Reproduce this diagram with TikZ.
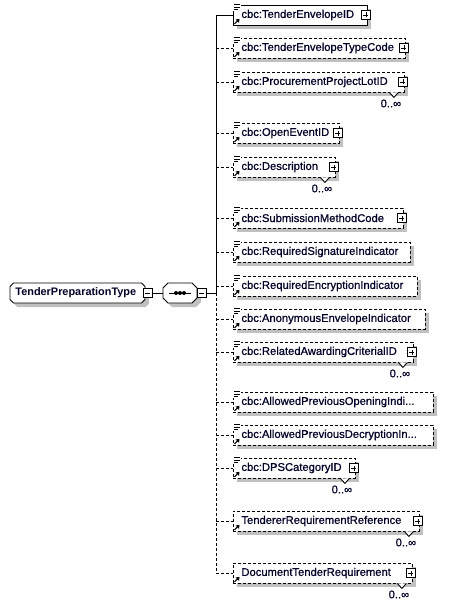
\documentclass[tikz,border=0pt]{standalone}
\usepackage{fontspec}
\setmainfont{Liberation Sans}
\newfontfamily\elemfont[FakeBold=0.7]{Liberation Sans}
\usetikzlibrary{shadows,calc}
\definecolor{shd}{RGB}{192,192,192}
\definecolor{txtc}{RGB}{0,0,40}
\newcommand\mydots{...}
\begin{document}
\begin{tikzpicture}[x=1pt,y=-1pt,line width=0.9pt,
  shdw/.style={drop shadow={shadow xshift=4pt,shadow yshift=-4pt,fill=shd,opacity=1}},
  elem/.style={draw=black,fill=white,minimum height=20pt,inner sep=0pt,anchor=west,shdw},
  solidline/.style={},
  dashline/.style={dash pattern=on 3pt off 2pt},
  lbl/.style={font=\elemfont\fontsize{11.2}{13}\selectfont,text=txtc,inner sep=0pt},
  rootlbl/.style={font=\bfseries\fontsize{10.9}{13}\selectfont,text=txtc,inner sep=0pt},
  pmbox/.style={draw=black,fill=white,minimum size=9pt,inner sep=0pt,solid},
  plusbox/.style={pmbox,path picture={\draw[line width=0.8pt]
     ([xshift=-2.5pt]path picture bounding box.center) -- ([xshift=2.5pt]path picture bounding box.center)
     ([yshift=-2.5pt]path picture bounding box.center) -- ([yshift=2.5pt]path picture bounding box.center);}},
  minusbox/.style={pmbox,path picture={\draw[line width=0.8pt]
     ([xshift=-2.5pt]path picture bounding box.center) -- ([xshift=2.5pt]path picture bounding box.center);}},
  octline/.style={draw=black,fill=white}
]
\useasboundingbox (0,0) rectangle (449,607);

% root complex type
\fill[shd,shift={(4,4)}] (13.5,283) -- (141.5,283) -- (145,286.5) -- (145,299.5) -- (141.5,303) -- (13.5,303) -- (10,299.5) -- (10,286.5) -- cycle;
\path[octline] (13.5,283) -- (141.5,283) -- (145,286.5) -- (145,299.5) -- (141.5,303) -- (13.5,303) -- (10,299.5) -- (10,286.5) -- cycle;
\node[inner sep=0pt,minimum width=135pt,minimum height=20pt,anchor=west] (root) at (10,293) {};
\node[rootlbl,anchor=west] (roottxt) at (15,293) {TenderPreparationType};
\node[minusbox] (rm) at (147.5,293) {};

% sequence compositor
\fill[shd,shift={(4,4)}] (168,283) -- (192,283) -- (197,288) -- (197,298) -- (192,303) -- (168,303) -- (163,298) -- (163,288) -- cycle;
\path[octline] (168,283) -- (192,283) -- (197,288) -- (197,298) -- (192,303) -- (168,303) -- (163,298) -- (163,288) -- cycle;
\node[inner sep=0pt,minimum width=34pt,minimum height=20pt] (seq) at (180,293) {};
\draw (seq.center) ++(-11,0) -- ++(22,0);
\foreach \dx in {-4,0,4} \fill ([xshift=\dx pt]seq.center) circle (2pt);
\node[minusbox] (sm) at (201.5,293) {};
\draw (rm.east) -- (seq.west);

% trunk
\coordinate (ttop) at (216,15);
\coordinate (tmid) at (216,293);
\coordinate (tbot) at (216,573);
\draw (sm.east) -- (tmid);
\draw (ttop) -- (tmid);
\draw[dashline] (tmid) -- (tbot);

\foreach \i/\y/\r/\nm/\d/\m/\p/\c in {
1/15/367/cbc:TenderEnvelopeID/solidline/0/1/1,
2/48/405/cbc:TenderEnvelopeTypeCode/dashline/0/1/1,
3/82/404/cbc:ProcurementProjectLotID/dashline/1/1/1,
4/133/339/cbc:OpenEventID/dashline/0/1/1,
5/167/335/cbc:Description/dashline/1/1/1,
6/218/403/cbc:SubmissionMethodCode/dashline/0/1/1,
7/252/410/cbc:RequiredSignatureIndicator/dashline/0/0/1,
8/286/417/cbc:RequiredEncryptionIndicator/dashline/0/0/1,
9/319/425/cbc:AnonymousEnvelopeIndicator/dashline/0/0/1,
10/352/413/cbc:RelatedAwardingCriterialID/dashline/1/1/1,
11/402/433/cbc:AllowedPreviousOpeningIndi\mydots/dashline/0/0/1,
12/435/433/cbc:AllowedPreviousDecryptionIn\mydots/dashline/0/0/1,
13/468/355/cbc:DPSCategoryID/dashline/1/1/1,
14/521/419/TendererRequirementReference/dashline/1/1/0,
15/573/412/DocumentTenderRequirement/dashline/1/1/0}{
  \draw[\d] (ttop |- 0,\y) -- (233,\y);
  \node[elem,\d,minimum width={\r-233}] (c\i) at (233,\y) {};
  \node[lbl,anchor=west] (t\i) at ([xshift=8pt]c\i.west) {\nm};
  \ifnum\p=1 \node[plusbox] (p\i) at ([xshift=-2pt]c\i.east) {};\fi
  \ifnum\c=1
    \fill[white] ([shift={(-0.5,-1)}]c\i.north west) rectangle ++(8,7);
    \draw[line width=0.8pt] ([shift={(1,0)}]c\i.north west) -- ++(6,0)
       ([shift={(1,2.5)}]c\i.north west) -- ++(6,0)
       ([shift={(1,5)}]c\i.north west) -- ++(4,0);
  \fi
  \draw[line width=1.1pt] ([shift={(1.5,-1.5)}]c\i.south west) -- ++(3,-3);
  \fill ([shift={(6.5,-6.5)}]c\i.south west) -- ++(-4,0.5) -- ++(3.5,3.5) -- cycle;
  \ifnum\m=1
    \draw[solid,fill=white] ([xshift=-15.5pt]c\i.south east) -- ++(4.5,5) -- ++(4.5,-5);
    \node[lbl] (m\i) at ([shift={(-14,11)}]c\i.south east) {0..∞};
  \fi
}
\end{tikzpicture}
\end{document}
